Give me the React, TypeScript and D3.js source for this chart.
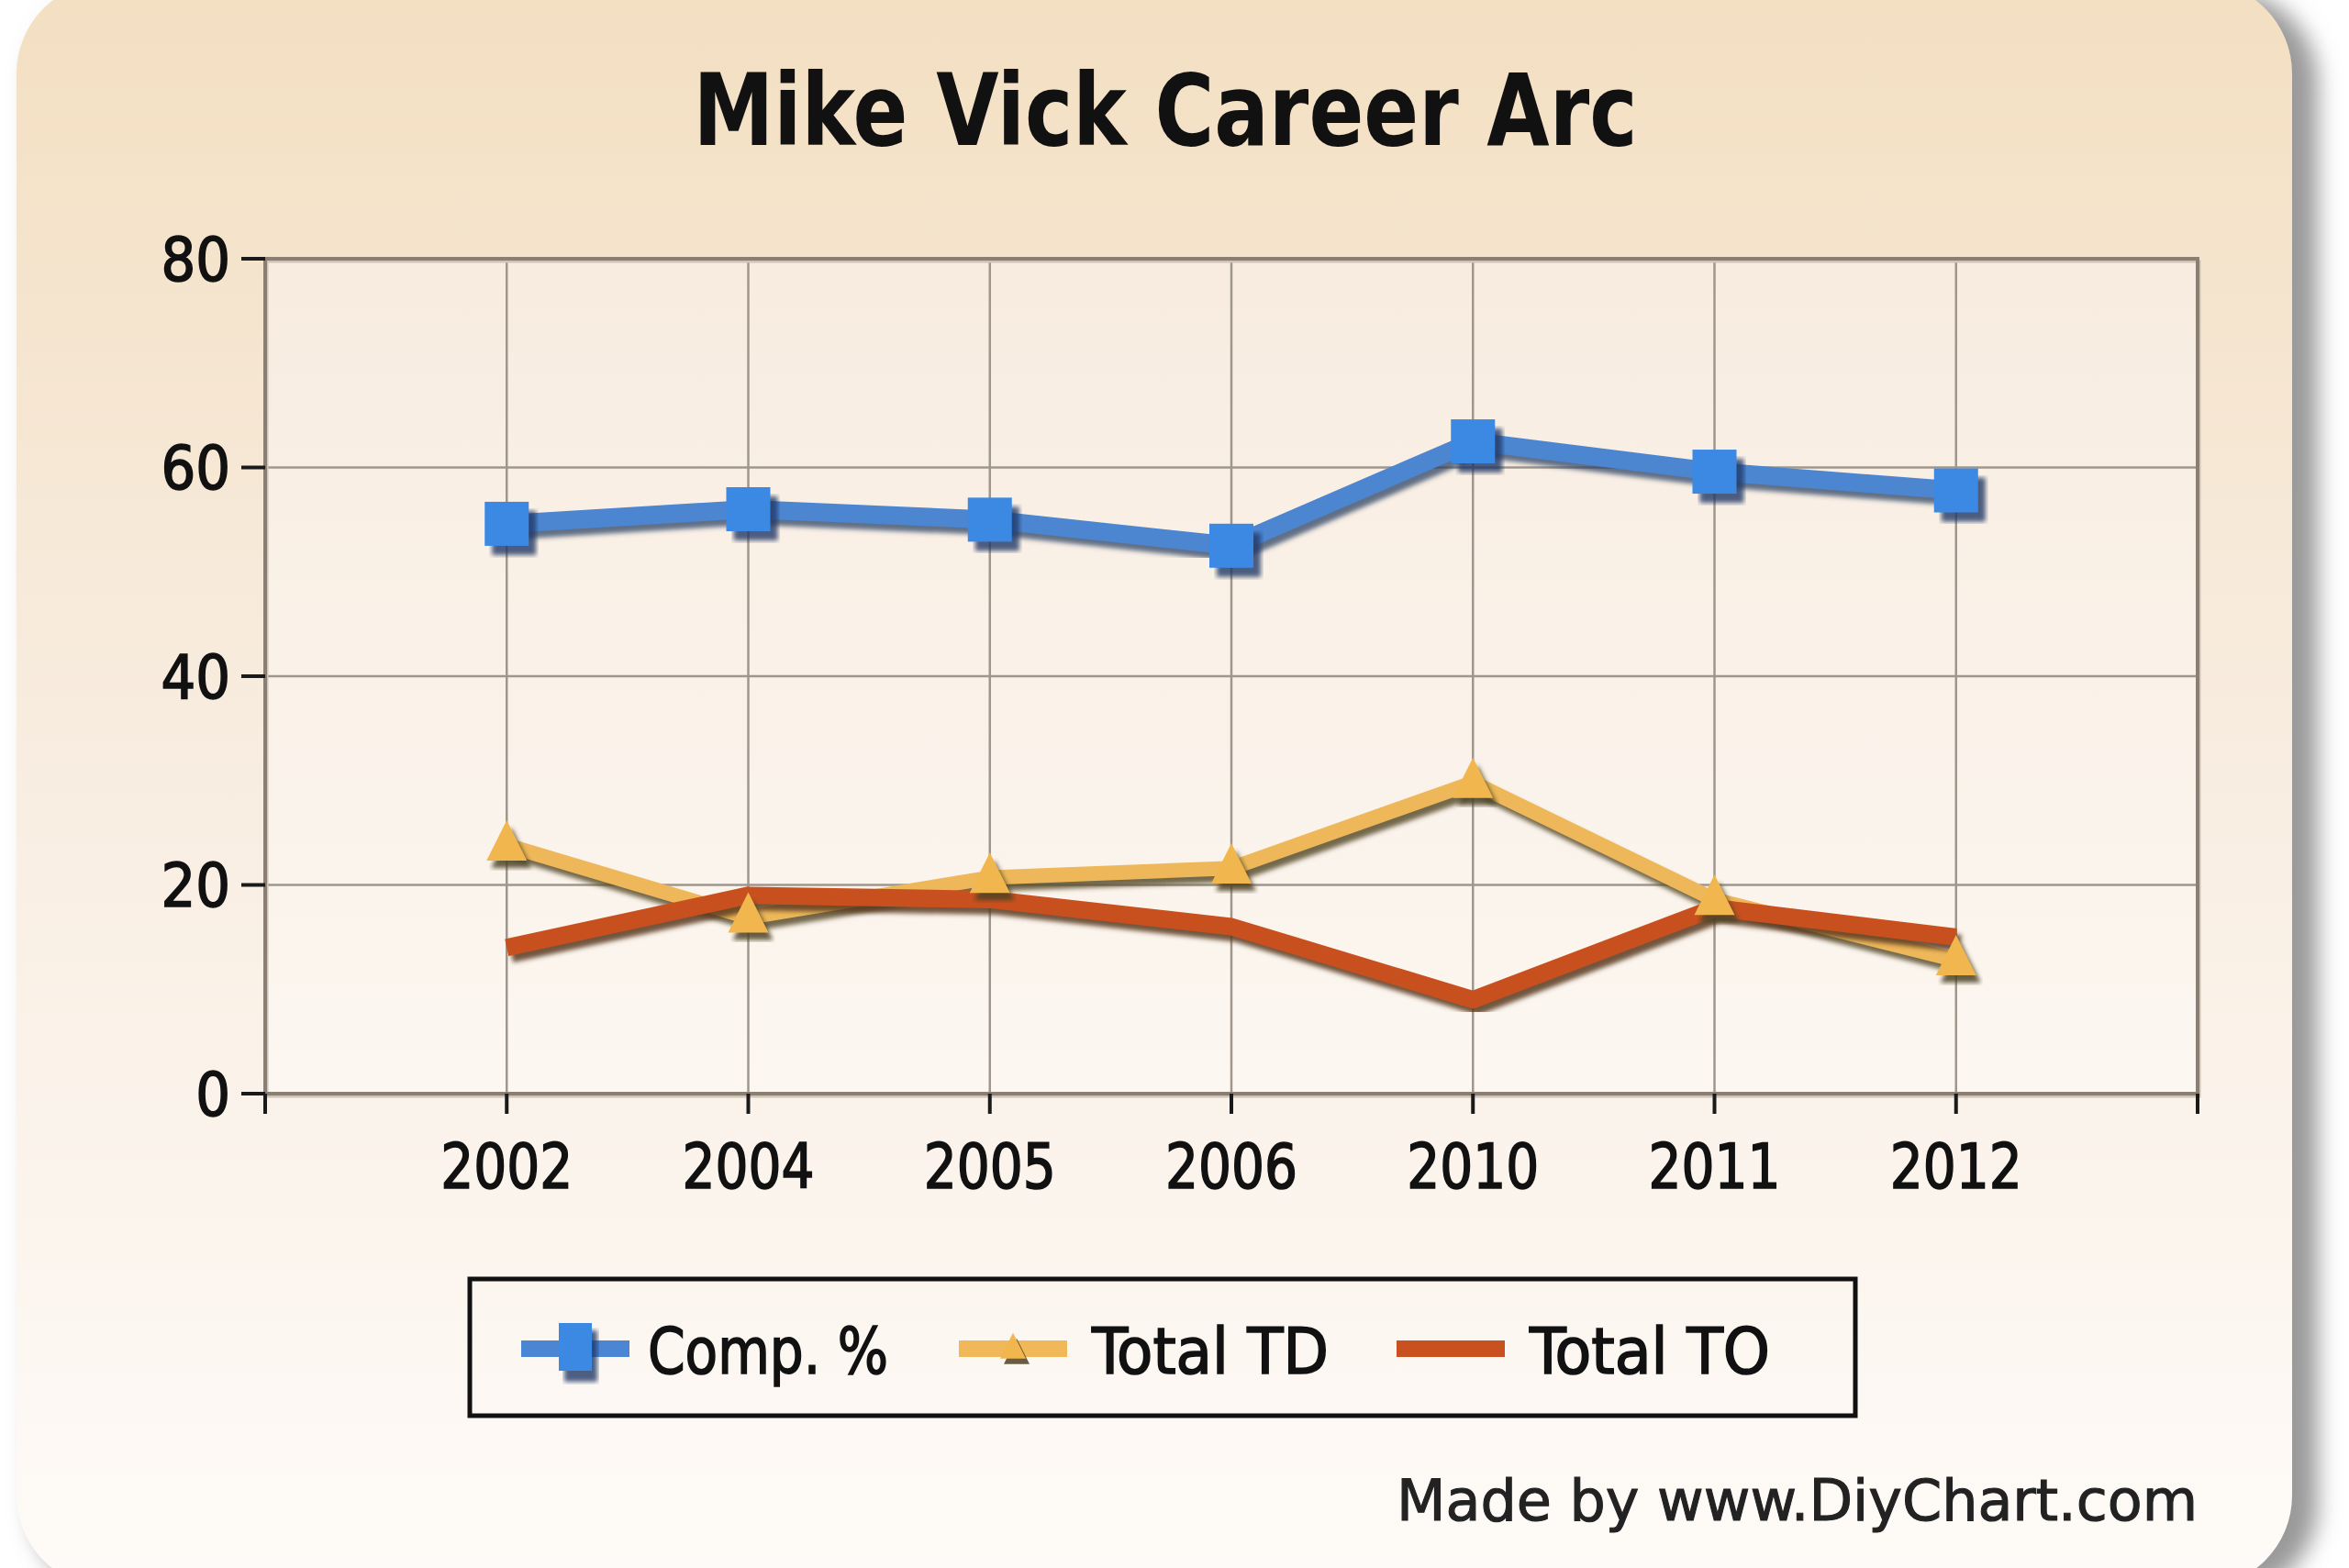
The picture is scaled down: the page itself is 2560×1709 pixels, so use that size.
import React from "react";
import * as d3 from "d3";

const title = "Mike Vick Career Arc";
const years = ["2002", "2004", "2005", "2006", "2010", "2011", "2012"];
const compPct = [54.6, 56.0, 55.0, 52.5, 62.5, 59.6, 57.8];
const totalTD = [23.8, 16.9, 20.7, 21.6, 29.8, 18.6, 12.8];
const totalTO = [14.0, 19.0, 18.6, 16.0, 9.0, 17.8, 15.0];
const yTicks = [0, 20, 40, 60, 80];
const seriesNames = ["Comp. %", "Total TD", "Total TO"];
const credit = "Made by www.DiyChart.com";

const W = 2560;
const H = 1709;
const FONT = "'DejaVu Sans Condensed', 'DejaVu Sans', sans-serif";

export default function App() {
  const left = 289, right = 2395, top = 282, bottom = 1192;
  const x = d3.scalePoint<string>().domain(years).range([left, right]).padding(1);
  const y = d3.scaleLinear().domain([0, 80]).range([bottom, top]);

  const line = (vals: number[]) =>
    d3.line<number>().x((_, i) => x(years[i]) as number).y((v) => y(v))(vals) as string;

  const tri = (cx: number, cy: number, s: number) =>
    `M${cx},${cy - s * 0.62} L${cx + s / 2},${cy + s * 0.38} L${cx - s / 2},${cy + s * 0.38} Z`;

  const sdx = 5, sdy = 7;

  const legendItems = [
    { name: seriesNames[0], color: "#4a86d4", mark: "square", x0: 568, tx: 706, tw: 262 },
    { name: seriesNames[1], color: "#f0b858", mark: "tri", x0: 1045, tx: 1190, tw: 258 },
    { name: seriesNames[2], color: "#c9511f", mark: "none", x0: 1522, tx: 1667, tw: 262 },
  ];

  const textStroke = { stroke: "#111", strokeWidth: 1.6 };

  return (
    <svg
      width={W}
      height={H}
      viewBox={`0 0 ${W} ${H}`}
      style={{ position: "absolute", left: 0, top: 0, display: "block" }}
    >
      <defs>
        <linearGradient id="panelGrad" x1="0" y1="0" x2="0" y2="1">
          <stop offset="0" stopColor="#f3dfc1" />
          <stop offset="0.45" stopColor="#f8ecdf" />
          <stop offset="1" stopColor="#fefbf8" />
        </linearGradient>
        <linearGradient id="plotGrad" x1="0" y1="0" x2="0" y2="1">
          <stop offset="0" stopColor="#f8ece0" />
          <stop offset="1" stopColor="#fcf7f1" />
        </linearGradient>
        <filter id="blur" x="-10%" y="-10%" width="120%" height="120%">
          <feGaussianBlur stdDeviation="12" />
        </filter>
        <filter id="softShadow" x="-5%" y="-5%" width="110%" height="110%">
          <feGaussianBlur stdDeviation="2.5" />
        </filter>
      </defs>

      <rect x={0} y={0} width={W} height={H} fill="#ffffff" />
      {/* panel shadow */}
      <rect x={34} y={-10} width={2492} height={1750} rx={100} fill="#9a9a9a" filter="url(#blur)" />
      {/* panel */}
      <rect x={18} y={-20} width={2480} height={1750} rx={100} fill="url(#panelGrad)" />

      {/* title */}
      <text
        x={1270}
        y={158}
        textAnchor="middle"
        fontFamily={FONT}
        fontWeight="bold"
        fontSize={108}
        fill="#111"
        textLength={1029}
        lengthAdjust="spacingAndGlyphs"
      >
        {title}
      </text>

      {/* plot background */}
      <rect x={left} y={top} width={right - left} height={bottom - top} fill="url(#plotGrad)" />

      {/* grid horizontal */}
      {yTicks.map((t) => (
        <line key={"gy" + t} x1={left} x2={right} y1={y(t)} y2={y(t)} stroke="#9f978d" strokeWidth={2.5} />
      ))}
      {/* grid vertical */}
      {years.map((yr) => (
        <line key={"gx" + yr} x1={x(yr)} x2={x(yr)} y1={top} y2={bottom} stroke="#9f978d" strokeWidth={2.5} />
      ))}

      {/* frame */}
      <rect x={left + 2} y={top + 3} width={right - left} height={bottom - top} fill="none" stroke="#cfc4b6" strokeWidth={3} />
      <rect x={left} y={top} width={right - left} height={bottom - top} fill="none" stroke="#8a7f72" strokeWidth={4} />

      {/* y ticks & labels */}
      {yTicks.map((t) => (
        <g key={"yt" + t}>
          <line x1={left - 26} x2={left} y1={y(t)} y2={y(t)} stroke="#1a1a1a" strokeWidth={4} />
          <text
            x={left - 38}
            y={y(t)}
            dy="0.36em"
            textAnchor="end"
            fontFamily={FONT}
            fontSize={66}
            fill="#111"
            {...textStroke}
          >
            {t}
          </text>
        </g>
      ))}

      {/* x ticks & labels */}
      {[left, right].map((xx, i) => (
        <line key={"xe" + i} x1={xx} x2={xx} y1={bottom} y2={bottom + 22} stroke="#1a1a1a" strokeWidth={4} />
      ))}
      {years.map((yr) => (
        <g key={"xt" + yr}>
          <line x1={x(yr)} x2={x(yr)} y1={bottom} y2={bottom + 22} stroke="#1a1a1a" strokeWidth={4} />
          <text
            x={x(yr)}
            y={1295}
            textAnchor="middle"
            fontFamily={FONT}
            fontSize={68}
            fill="#111"
            textLength={144}
            lengthAdjust="spacingAndGlyphs"
            {...textStroke}
          >
            {yr}
          </text>
        </g>
      ))}

      {/* Comp % */}
      <g>
        <path d={line(compPct)} transform={`translate(${sdx},${sdy})`} fill="none" stroke="#2e4366" strokeOpacity={0.75} strokeWidth={20} strokeLinejoin="round" filter="url(#softShadow)" />
        <path d={line(compPct)} fill="none" stroke="#4c85d0" strokeWidth={20} strokeLinejoin="round" />
      </g>

      {/* Total TD line */}
      <g>
        <path d={line(totalTD)} transform={`translate(${sdx},${sdy})`} fill="none" stroke="#5c5030" strokeOpacity={0.85} strokeWidth={16} strokeLinejoin="round" filter="url(#softShadow)" />
        <path d={line(totalTD)} fill="none" stroke="#eeb85a" strokeWidth={16} strokeLinejoin="round" />
      </g>

      {/* Total TO line */}
      <g>
        <path d={line(totalTO)} transform={`translate(${sdx},${sdy})`} fill="none" stroke="#5a3a22" strokeOpacity={0.85} strokeWidth={19} strokeLinejoin="round" filter="url(#softShadow)" />
        <path d={line(totalTO)} fill="none" stroke="#c8501e" strokeWidth={19} strokeLinejoin="round" />
      </g>

      {/* Comp markers */}
      {compPct.map((v, i) => {
        const cx = x(years[i]) as number;
        const cy = y(v);
        return (
          <g key={"cm" + i}>
            <rect x={cx - 24 + 8} y={cy - 24 + 10} width={48} height={48} fill="#1f3a66" fillOpacity={0.8} filter="url(#softShadow)" />
            <rect x={cx - 24} y={cy - 24} width={48} height={48} fill="#3c89e4" />
          </g>
        );
      })}

      {/* TD markers */}
      {totalTD.map((v, i) => {
        const cx = x(years[i]) as number;
        const cy = y(v);
        return (
          <g key={"tm" + i}>
            <path d={tri(cx + 5, cy + 8, 44)} fill="#4e4225" fillOpacity={0.85} filter="url(#softShadow)" />
            <path d={tri(cx, cy, 44)} fill="#f2b64e" />
          </g>
        );
      })}

      {/* legend */}
      <rect x={512} y={1394} width={1510} height={149} fill="none" stroke="#111" strokeWidth={5} />
      {legendItems.map((it) => {
        const ly = 1470;
        const shadowCol = it.mark === "square" ? "#2e4366" : it.mark === "tri" ? "#5c5030" : "#5a3a22";
        return (
          <g key={it.name}>
            <line x1={it.x0 + 4} x2={it.x0 + 122} y1={ly + 7} y2={ly + 7} stroke={shadowCol} strokeOpacity={0.75} strokeWidth={18} filter="url(#softShadow)" />
            <line x1={it.x0} x2={it.x0 + 118} y1={ly} y2={ly} stroke={it.color} strokeWidth={18} />
            {it.mark === "square" && (
              <g>
                <rect x={it.x0 + 59 - 18 + 6} y={ly - 28 + 8} width={36} height={56} fill="#1f3a66" fillOpacity={0.8} filter="url(#softShadow)" />
                <rect x={it.x0 + 59 - 18} y={ly - 28} width={36} height={52} fill="#3c89e4" />
              </g>
            )}
            {it.mark === "tri" && (
              <g>
                <path d={tri(it.x0 + 63, ly + 6, 28)} fill="#4e4225" fillOpacity={0.85} />
                <path d={tri(it.x0 + 59, ly, 28)} fill="#f2b64e" />
              </g>
            )}
            <text
              x={it.tx}
              y={1497}
              fontFamily={FONT}
              fontSize={70}
              fill="#111"
              textLength={it.tw}
              lengthAdjust="spacingAndGlyphs"
              {...textStroke}
            >
              {it.name}
            </text>
          </g>
        );
      })}

      {/* credit */}
      <text
        x={2395}
        y={1657}
        textAnchor="end"
        fontFamily={FONT}
        fontSize={62}
        fill="#222"
        textLength={873}
        lengthAdjust="spacingAndGlyphs"
        stroke="#222"
        strokeWidth={1}
      >
        {credit}
      </text>
    </svg>
  );
}
